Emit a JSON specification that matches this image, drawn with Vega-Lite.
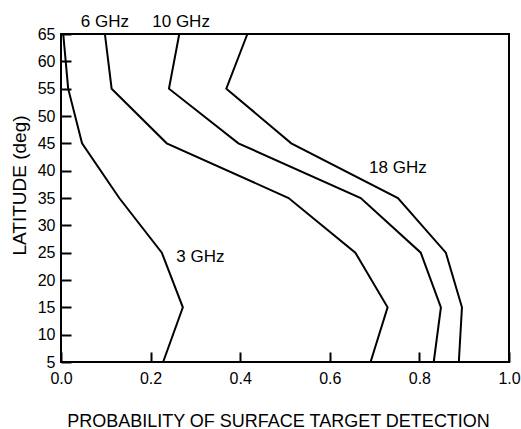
{
  "$schema": "https://vega.github.io/schema/vega-lite/v6.json",
  "width": 448,
  "height": 328,
  "autosize": {"type": "none"},
  "padding": {"left": 61, "top": 34, "right": 12, "bottom": 67},
  "background": "white",
  "config": {
    "font": "Liberation Sans",
    "view": {"stroke": "black", "strokeWidth": 2}
  },
  "datasets": {
    "curves": [
      {"freq": "3 GHz", "lat": 5, "p": 0.228},
      {"freq": "3 GHz", "lat": 15, "p": 0.272},
      {"freq": "3 GHz", "lat": 25, "p": 0.225},
      {"freq": "3 GHz", "lat": 35, "p": 0.13},
      {"freq": "3 GHz", "lat": 45, "p": 0.047},
      {"freq": "3 GHz", "lat": 55, "p": 0.016},
      {"freq": "3 GHz", "lat": 65, "p": 0.005},
      {"freq": "6 GHz", "lat": 5, "p": 0.691},
      {"freq": "6 GHz", "lat": 15, "p": 0.729},
      {"freq": "6 GHz", "lat": 25, "p": 0.657},
      {"freq": "6 GHz", "lat": 35, "p": 0.508},
      {"freq": "6 GHz", "lat": 45, "p": 0.236},
      {"freq": "6 GHz", "lat": 55, "p": 0.113},
      {"freq": "6 GHz", "lat": 65, "p": 0.098},
      {"freq": "10 GHz", "lat": 5, "p": 0.832},
      {"freq": "10 GHz", "lat": 15, "p": 0.848},
      {"freq": "10 GHz", "lat": 25, "p": 0.803},
      {"freq": "10 GHz", "lat": 35, "p": 0.669},
      {"freq": "10 GHz", "lat": 45, "p": 0.396},
      {"freq": "10 GHz", "lat": 55, "p": 0.241},
      {"freq": "10 GHz", "lat": 65, "p": 0.264},
      {"freq": "18 GHz", "lat": 5, "p": 0.888},
      {"freq": "18 GHz", "lat": 15, "p": 0.895},
      {"freq": "18 GHz", "lat": 25, "p": 0.859},
      {"freq": "18 GHz", "lat": 35, "p": 0.752},
      {"freq": "18 GHz", "lat": 45, "p": 0.514},
      {"freq": "18 GHz", "lat": 55, "p": 0.369},
      {"freq": "18 GHz", "lat": 65, "p": 0.416}
    ],
    "labels": [
      {"text": "6 GHz", "lat": 67.2, "p": 0.098},
      {"text": "10 GHz", "lat": 67.2, "p": 0.268},
      {"text": "18 GHz", "lat": 40.5, "p": 0.752},
      {"text": "3 GHz", "lat": 24.2, "p": 0.311}
    ],
    "yticks": [
      {"lat": 10}, {"lat": 15}, {"lat": 20}, {"lat": 25}, {"lat": 30},
      {"lat": 35}, {"lat": 40}, {"lat": 45}, {"lat": 50}, {"lat": 55}, {"lat": 60}
    ],
    "xticks": [
      {"p": 0.2}, {"p": 0.4}, {"p": 0.6}, {"p": 0.8}
    ]
  },
  "encoding": {
    "x": {
      "field": "p",
      "type": "quantitative",
      "scale": {"domain": [0, 1], "nice": false, "zero": false},
      "axis": {
        "values": [0, 0.2, 0.4, 0.6, 0.8, 1.0],
        "format": ".1f",
        "grid": false,
        "domain": false,
        "ticks": true,
        "tickColor": "#000000",
        "tickOpacity": 1,
        "tickWidth": 2,
        "tickSize": 10,
        "offset": -10,
        "zindex": 1,
        "labelColor": "black",
        "labelFontSize": 16,
        "labelPadding": 8,
        "labelFlush": false,
        "labelOverlap": false,
        "title": "PROBABILITY OF SURFACE TARGET DETECTION",
        "titleColor": "black",
        "titleFontWeight": "normal",
        "titleFontSize": 18,
        "titlePadding": 26,
        "titleX": 217
      }
    },
    "y": {
      "field": "lat",
      "type": "quantitative",
      "scale": {"domain": [5, 65], "nice": false, "zero": false},
      "axis": {
        "values": [5, 10, 15, 20, 25, 30, 35, 40, 45, 50, 55, 60, 65],
        "grid": false,
        "domain": false,
        "ticks": true,
        "tickColor": "#000000",
        "tickOpacity": 1,
        "tickWidth": 2,
        "tickSize": 10,
        "offset": -10,
        "zindex": 1,
        "labelColor": "black",
        "labelFontSize": 16,
        "labelPadding": 6,
        "labelFlush": false,
        "labelOverlap": false,
        "labelSeparation": 0,
        "title": "LATITUDE (deg)",
        "titleColor": "black",
        "titleFontWeight": "normal",
        "titleFontSize": 19,
        "titlePadding": 8,
        "titleY": 151
      }
    }
  },
  "layer": [
    {
      "data": {"name": "curves"},
      "mark": {"type": "line", "color": "black", "strokeWidth": 2},
      "encoding": {
        "detail": {"field": "freq"},
        "order": {"field": "lat", "type": "quantitative"}
      }
    },
    {
      "data": {"name": "yticks"},
      "mark": {"type": "rule", "color": "black", "strokeWidth": 1.5},
      "encoding": {
        "x": {"datum": 0},
        "x2": {"datum": 0.0223}
      }
    },
    {
      "data": {"name": "xticks"},
      "mark": {"type": "rule", "color": "black", "strokeWidth": 1.5},
      "encoding": {
        "y": {"datum": 5},
        "y2": {"datum": 6.83}
      }
    },
    {
      "data": {"name": "labels"},
      "mark": {"type": "text", "fontSize": 17, "color": "black", "align": "center", "baseline": "middle"},
      "encoding": {
        "text": {"field": "text"}
      }
    }
  ]
}
